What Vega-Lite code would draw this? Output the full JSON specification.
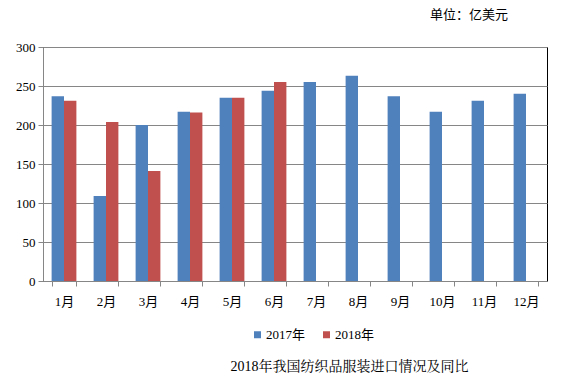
{
  "$schema": "https://vega.github.io/schema/vega-lite/v6.json",
  "autosize": "none",
  "width": 504,
  "height": 234,
  "padding": {"left": 43, "top": 47, "right": 27, "bottom": 110},
  "background": "white",
  "title": {
    "text": "单位：亿美元",
    "anchor": "end",
    "orient": "top",
    "offset": 19,
    "dx": -39,
    "font": "Noto Sans CJK SC",
    "fontSize": 13,
    "fontWeight": "normal",
    "color": "#000000"
  },
  "data": {
    "values": [
      {"month": "1月", "year": "2017年", "value": 237},
      {"month": "1月", "year": "2018年", "value": 231},
      {"month": "2月", "year": "2017年", "value": 109},
      {"month": "2月", "year": "2018年", "value": 204},
      {"month": "3月", "year": "2017年", "value": 200},
      {"month": "3月", "year": "2018年", "value": 141},
      {"month": "4月", "year": "2017年", "value": 217},
      {"month": "4月", "year": "2018年", "value": 216},
      {"month": "5月", "year": "2017年", "value": 235},
      {"month": "5月", "year": "2018年", "value": 235},
      {"month": "6月", "year": "2017年", "value": 244},
      {"month": "6月", "year": "2018年", "value": 255},
      {"month": "7月", "year": "2017年", "value": 255},
      {"month": "8月", "year": "2017年", "value": 263},
      {"month": "9月", "year": "2017年", "value": 237},
      {"month": "10月", "year": "2017年", "value": 217},
      {"month": "11月", "year": "2017年", "value": 231},
      {"month": "12月", "year": "2017年", "value": 240}
    ]
  },
  "mark": {"type": "bar"},
  "encoding": {
    "x": {
      "field": "month",
      "type": "nominal",
      "sort": ["1月","2月","3月","4月","5月","6月","7月","8月","9月","10月","11月","12月"],
      "scale": {"paddingInner": 0.41, "paddingOuter": 0.205},
      "axis": {
        "title": "2018年我国纺织品服装进口情况及同比",
        "titleX": 306,
        "titleY": 85,
        "titleAnchor": null,
        "titleAlign": "center",
        "titleBaseline": "middle",
        "titleFont": "'Liberation Serif', 'Noto Serif CJK SC', 'Noto Sans CJK SC', serif",
        "titleFontSize": 14,
        "titleFontWeight": "normal",
        "titleColor": "#000000",
        "labelAngle": 0,
        "labelFont": "'Liberation Serif', 'Noto Sans CJK SC', serif",
        "labelFontSize": 13,
        "labelColor": "#000000",
        "labelPadding": 9,
        "tickBand": "extent",
        "tickSize": 5,
        "tickColor": "#868686",
        "domainColor": "#868686",
        "grid": false
      }
    },
    "xOffset": {"field": "year", "type": "nominal"},
    "y": {
      "field": "value",
      "type": "quantitative",
      "scale": {"domain": [0, 300]},
      "axis": {
        "title": null,
        "values": [0, 50, 100, 150, 200, 250, 300],
        "labelFont": "'Liberation Serif', serif",
        "labelFontSize": 13,
        "labelColor": "#000000",
        "labelPadding": 3,
        "tickSize": 5,
        "tickColor": "#868686",
        "domainColor": "#868686",
        "grid": true,
        "gridColor": "#868686",
        "gridWidth": 1
      }
    },
    "color": {
      "field": "year",
      "type": "nominal",
      "scale": {"domain": ["2017年", "2018年"], "range": ["#4F81BD", "#C0504D"]},
      "legend": {
        "title": null,
        "orient": "none",
        "direction": "horizontal",
        "legendX": 208,
        "legendY": 281,
        "symbolType": "square",
        "symbolSize": 49,
        "symbolStrokeWidth": 0,
        "labelFont": "'Liberation Serif', 'Noto Sans CJK SC', serif",
        "labelFontSize": 13,
        "labelColor": "#000000",
        "labelOffset": 2,
        "columnPadding": 14
      }
    }
  },
  "config": {
    "view": {"stroke": "#000000", "strokeWidth": 1}
  }
}
